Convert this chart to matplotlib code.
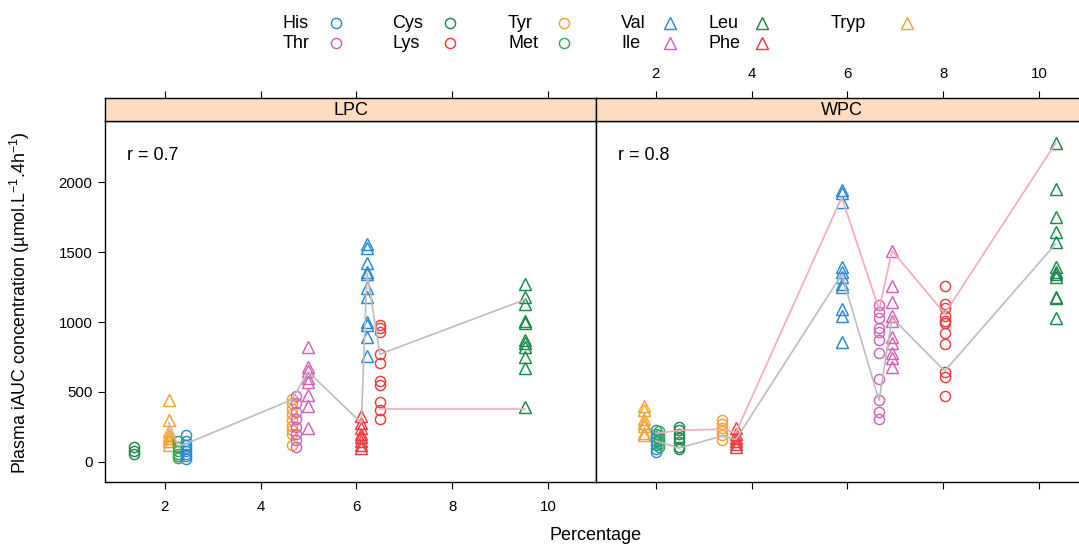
import matplotlib
matplotlib.use("Agg")
import matplotlib.pyplot as plt
from matplotlib.lines import Line2D

plt.rcParams["font.family"] = ["Liberation Sans", "DejaVu Sans"]
plt.rcParams["mathtext.fontset"] = "custom"
plt.rcParams["mathtext.rm"] = "Liberation Sans"
plt.rcParams["mathtext.it"] = "Liberation Sans:italic"

# amino acid styles
colors = {"His": "#2a8ad6", "Thr": "#d561b8", "Cys": "#1b8a4c", "Lys": "#ee3b3f",
          "Tyr": "#f6a233", "Met": "#33a852", "Val": "#2a8ad6", "Ile": "#d561b8",
          "Leu": "#1b8a4c", "Phe": "#ee3b3f", "Tryp": "#f6a233"}
circles = ["His", "Thr", "Cys", "Lys", "Tyr", "Met"]

# ---- LPC panel: percentage of each amino acid and iAUC values
lpc_pct = {"Cys": 1.35, "Tryp": 2.08, "Met": 2.27, "His": 2.44, "Tyr": 4.65, "Thr": 4.73,
           "Ile": 4.99, "Phe": 6.10, "Val": 6.22, "Lys": 6.49, "Leu": 9.52}
lpc_cys = [105, 75, 55]
lpc_tryp = [440, 300, 220, 190, 170, 150, 120]
lpc_met = [150, 110, 80, 60, 40, 30]
lpc_his = [195, 150, 120, 100, 80, 60, 40, 20]
lpc_tyr = [450, 420, 380, 340, 300, 260, 230, 200, 120]
lpc_thr = [470, 420, 360, 310, 250, 200, 160, 110]
lpc_ile = [820, 680, 650, 600, 570, 480, 400, 240]
lpc_phe = [330, 280, 240, 200, 180, 150, 120, 100]
lpc_val = [1560, 1530, 1420, 1360, 1340, 1240, 1180, 1000, 980, 890, 760]
lpc_lys = [980, 960, 930, 770, 710, 580, 550, 430, 370, 310]
lpc_leu = [1270, 1180, 1130, 1010, 990, 870, 850, 820, 750, 670, 390]
lpc_gray_x = [2.08, 2.27, 2.44, 4.65, 4.99, 6.10, 6.22, 6.49, 9.52]
lpc_gray_y = [280, 115, 130, 445, 645, 280, 1350, 770, 1160]
lpc_pink_x = [6.49, 9.52]
lpc_pink_y = [375, 375]

# ---- WPC panel
wpc_pct = {"Tryp": 1.75, "His": 2.00, "Met": 2.06, "Cys": 2.48, "Tyr": 3.38, "Phe": 3.67,
           "Val": 5.88, "Thr": 6.66, "Ile": 6.93, "Lys": 8.03, "Leu": 10.35}
wpc_tryp = [400, 370, 310, 280, 260, 210, 190]
wpc_his = [230, 200, 180, 150, 120, 90, 70]
wpc_met = [220, 190, 170, 150, 130, 110]
wpc_cys = [250, 230, 200, 170, 140, 110, 90]
wpc_tyr = [300, 270, 240, 220, 190, 160]
wpc_phe = [240, 200, 170, 150, 130, 110]
wpc_val = [1940, 1920, 1860, 1390, 1360, 1320, 1270, 1250, 1090, 1040, 860]
wpc_thr = [1120, 1070, 1030, 960, 930, 870, 780, 590, 440, 360, 310]
wpc_ile = [1510, 1260, 1140, 1040, 1010, 890, 850, 780, 740, 680]
wpc_lys = [1260, 1130, 1100, 1040, 1010, 990, 920, 840, 640, 610, 470]
wpc_leu = [2280, 1950, 1750, 1640, 1570, 1390, 1360, 1340, 1320, 1180, 1170, 1030]
wpc_gray_x = [2.00, 2.48, 3.38, 3.67, 5.88, 6.66, 6.93, 8.03, 10.35]
wpc_gray_y = [150, 100, 185, 160, 1340, 440, 1030, 650, 1560]
wpc_pink_x = [2.00, 2.48, 3.38, 3.67, 5.88, 6.66, 6.93, 8.03, 10.35]
wpc_pink_y = [205, 225, 235, 210, 1890, 1090, 1510, 1060, 2280]

lpc_vals = {"Cys": lpc_cys, "Tryp": lpc_tryp, "Met": lpc_met, "His": lpc_his, "Tyr": lpc_tyr,
            "Thr": lpc_thr, "Ile": lpc_ile, "Phe": lpc_phe, "Val": lpc_val, "Lys": lpc_lys,
            "Leu": lpc_leu}
wpc_vals = {"Tryp": wpc_tryp, "His": wpc_his, "Met": wpc_met, "Cys": wpc_cys, "Tyr": wpc_tyr,
            "Phe": wpc_phe, "Val": wpc_val, "Thr": wpc_thr, "Ile": wpc_ile, "Lys": wpc_lys,
            "Leu": wpc_leu}

W, H = 1079, 545
fig = plt.figure(figsize=(W / 100, H / 100), dpi=100)

xticks = [2, 4, 6, 8, 10]
yticks = [0, 500, 1000, 1500, 2000]
MS_O, MS_T, MEW = 7.3, 8.2, 1.05


def panel(left, pct, vals, gx, gy, px, py, rtext, strip, first):
    ax = fig.add_axes([left / W, 1 - 482 / H, 491 / W, 361 / H])
    st = fig.add_axes([left / W, 1 - 121 / H, 491 / W, 23 / H])
    for aa, v in vals.items():
        m = "o" if aa in circles else "^"
        ax.plot([pct[aa]] * len(v), v, linestyle="none", marker=m,
                markersize=MS_O if m == "o" else MS_T, markerfacecolor="none",
                markeredgecolor=colors[aa], markeredgewidth=MEW)
    ax.plot(gx, gy, color="#bdbdbd", lw=1.2)
    ax.plot(px, py, color="#f6a9c0", lw=1.2)
    ax.set_xlim(0.75, 11.0)
    ax.set_ylim(-143, 2436)
    ax.text(0.045, 0.905, rtext, transform=ax.transAxes, fontsize=13, va="center")
    ax.set_xticks(xticks)
    ax.set_yticks(yticks)
    ax.tick_params(length=5, width=0.8, labelsize=10.8, direction="out")
    ax.tick_params(axis="x", pad=8)
    ax.tick_params(axis="y", pad=4)
    if first:
        ax.tick_params(left=True, right=False, labelleft=True)
    else:
        ax.tick_params(left=False, right=True, labelleft=False)
        ax.set_xticklabels([])
    for s in ax.spines.values():
        s.set_linewidth(1.0)

    st.set_facecolor("#fddcc2")
    st.set_xlim(0.75, 11.0)
    st.set_yticks([])
    st.set_xticks(xticks)
    st.tick_params(axis="x", bottom=False, top=True, labelbottom=False,
                   labeltop=not first, length=5, width=0.8, labelsize=10.8, pad=7)
    st.text(0.5, 0.45, strip, transform=st.transAxes, ha="center", va="center", fontsize=13)
    for s in st.spines.values():
        s.set_linewidth(1.0)
    return ax


panel(105, lpc_pct, lpc_vals, lpc_gray_x, lpc_gray_y, lpc_pink_x, lpc_pink_y, "r = 0.7", "LPC", True)
panel(596, wpc_pct, wpc_vals, wpc_gray_x, wpc_gray_y, wpc_pink_x, wpc_pink_y, "r = 0.8", "WPC", False)

fig.text(596 / W, 1 - 536 / H, "Percentage", ha="center", va="center", fontsize=13)
fig.text(20 / W, 1 - 303 / H, r"Plasma iAUC concentration (µmol.L$^{-1}$.4h$^{-1}$)",
         rotation=90, ha="center", va="center", fontsize=12.8)

# key at top
key_cols = [("His", "Thr"), ("Cys", "Lys"), ("Tyr", "Met"), ("Val", "Ile"), ("Leu", "Phe"), ("Tryp",)]
key_text_x = [283, 392, 508, 621, 709, 831]
key_sym_x = [336, 450, 564, 670, 762, 907]
key_row_y = [23, 43]
for col, tx, sx in zip(key_cols, key_text_x, key_sym_x):
    for aa, ry in zip(col, key_row_y):
        fig.text(tx / W, 1 - ry / H, aa, ha="left", va="center", fontsize=13)
        m = "o" if aa in circles else "^"
        fig.add_artist(Line2D([sx / W], [1 - ry / H], transform=fig.transFigure, marker=m,
                              markersize=MS_O if m == "o" else MS_T, markerfacecolor="none",
                              markeredgecolor=colors[aa], markeredgewidth=MEW, linestyle="none"))

fig.savefig("out.png", dpi=100)
